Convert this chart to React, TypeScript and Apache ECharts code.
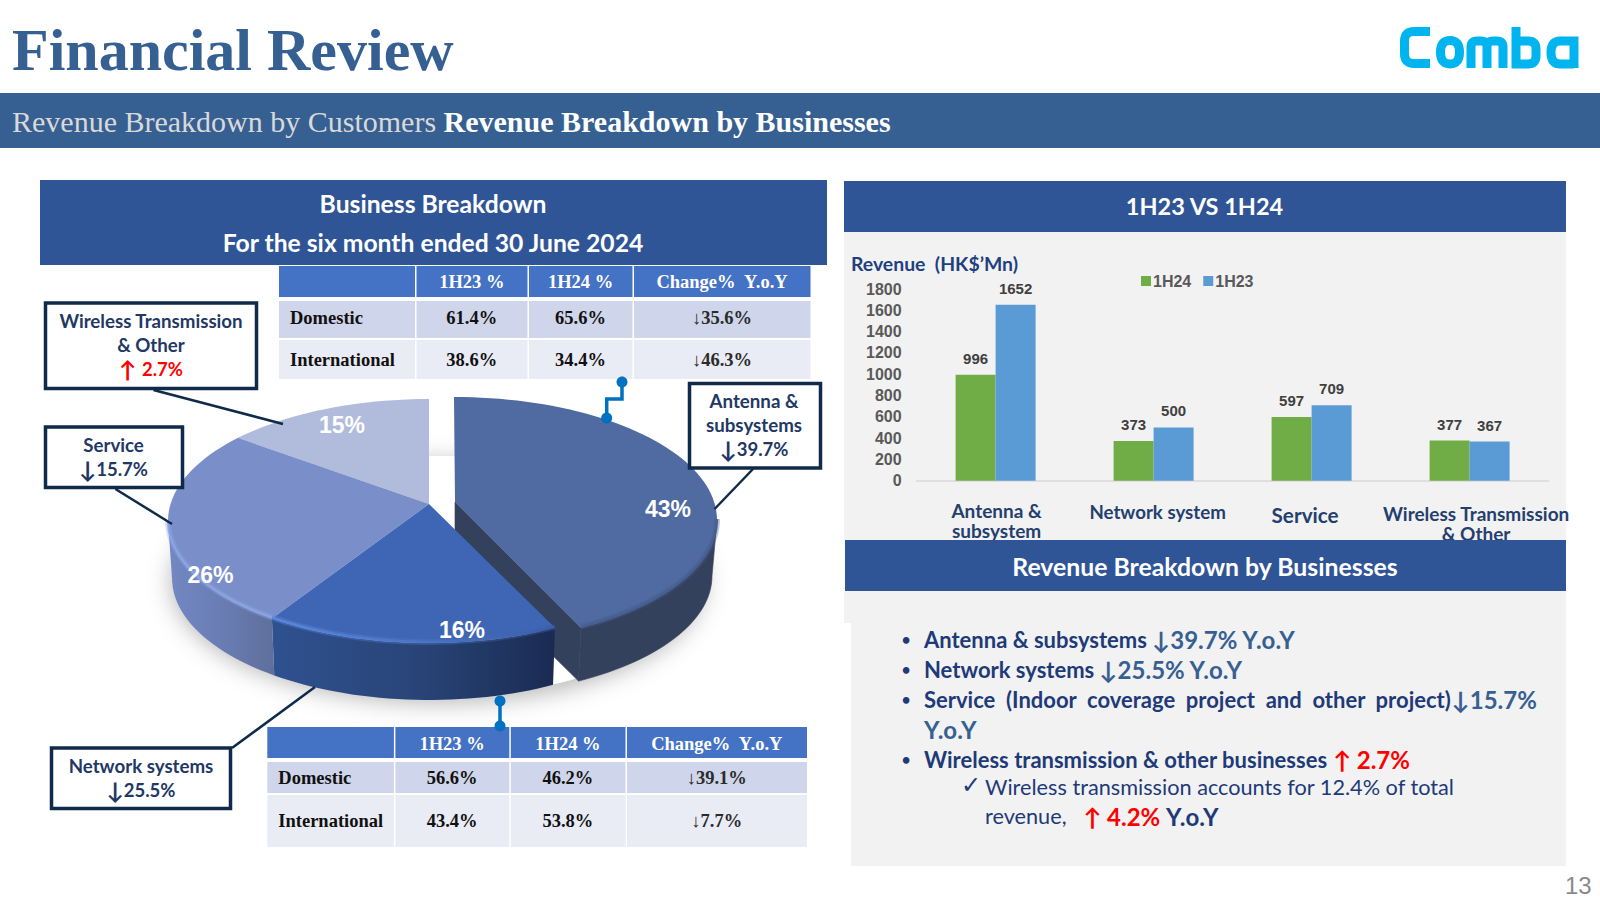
import React, { useEffect, useRef } from "react";
import * as echarts from "echarts";

// ---------- data ----------
const barCategories = ["Antenna &\nsubsystem", "Network system", "Service", "Wireless Transmission\n& Other"];
const revenue1H24 = [996, 373, 597, 377];
const revenue1H23 = [1652, 500, 709, 367];
const yTicks = { min: 0, max: 1800, interval: 200 };

const pieNames = ["Wireless Transmission & Other", "Service", "Network systems", "Antenna & subsystems"];
const pieValues = [15, 26, 16, 43];
const pieLabels = ["15%", "26%", "16%", "43%"];

const tableHead = ["", "1H23 %", "1H24 %", "Change%  Y.o.Y"];
const topDomestic = ["Domestic", "61.4%", "65.6%", "↓35.6%"];
const topIntl = ["International", "38.6%", "34.4%", "↓46.3%"];
const bottomDomestic = ["Domestic", "56.6%", "46.2%", "↓39.1%"];
const bottomIntl = ["International", "43.4%", "53.8%", "↓7.7%"];

// ---------- style constants ----------
const SANS = "Lato, 'DejaVu Sans', sans-serif";
const SERIF = "'Liberation Serif', serif";
const ARIAL = "'Liberation Sans', sans-serif";
const NAVY = "#2F5597";
const BAND = "#376092";
const INK = "#1F3864";
const BOX = "#0F2A4A";
const RIGHT = 1566;

const T = (x: number, y: number, text: string, o: any = {}) => ({
  type: "text", x, y, z: o.z ?? 50,
  style: {
    text, align: o.align ?? "center", verticalAlign: "middle",
    fill: o.fill ?? "#000", fontFamily: o.family ?? SANS,
    fontSize: o.size ?? 18, fontWeight: o.weight ?? "bold", rich: o.rich,
  },
});
const R = (x1: number, y1: number, x2: number, y2: number, fill: string, z = -10) => ({
  type: "rect", z, shape: { x: x1, y: y1, width: x2 - x1, height: y2 - y1 }, style: { fill },
});
const L = (x1: number, y1: number, x2: number, y2: number, stroke = BOX, lineWidth = 2.5, z = 20) => ({
  type: "line", z, shape: { x1, y1, x2, y2 }, style: { stroke, lineWidth },
});

function table(xs: number[], rows: number[][], dy: number[], content: string[][]) {
  const out: any[] = [];
  const fills = ["#4472C4", "#CFD5EA", "#E9EBF5"];
  rows.forEach((r, ri) => {
    for (let c = 0; c < 4; c++) {
      out.push(R(xs[c], r[0], xs[c + 1] - 1.5, r[1], fills[ri], 5));
      const cy = (r[0] + r[1]) / 2 + 0.5 + dy[ri];
      const left = c === 0;
      out.push(T(left ? xs[0] + 11 : (xs[c] + xs[c + 1]) / 2 - 1, cy, content[ri][c], {
        family: SERIF, size: 18.5, align: left ? "left" : "center",
        fill: ri === 0 ? "#fff" : c === 3 ? "#2b2b2b" : "#111",
      }));
    }
  });
  return out;
}

function callout(x1: number, y1: number, x2: number, y2: number) {
  return {
    type: "rect", z: 30,
    shape: { x: x1, y: y1, width: x2 - x1, height: y2 - y1 },
    style: { fill: "#fff", stroke: BOX, lineWidth: 3.5 },
  };
}

function arrowText(x: number, y: number, arrow: string, text: string, fill: string) {
  return T(x, y, `{a|${arrow}}{t|${text}}`, {
    z: 40, size: 18.5,
    rich: {
      a: { fill, fontFamily: SANS, fontWeight: "bold", fontSize: 23 },
      t: { fill, fontFamily: SANS, fontWeight: "bold", fontSize: 18.5 },
    },
  });
}

// ---------- pie geometry ----------
const TOP = { cx: 429, cy: 521, rx: 261, ry: 122, ax: 429, ay: 504 };
const BOT = { cx: 429, cy: 578, rx: 257, ry: 122 };
const TOP_EX = { cx: 454, cy: 520, rx: 263, ry: 123, ax: 455, ay: 502 };
const BOT_EX = { cx: 454, cy: 576, rx: 258, ry: 120 };
const EXPLODED = 3;
const TILT = 8.6;
const DRAW_ORDER = [10, 20, 30, 1];
const LABEL_POS = [[342, 425], [210.5, 575], [462, 630], [668, 509]];
const TOP_FILL = ["#B1BBDC", "#7A8FCA", "#3E66B4", "#4F6BA1"];

const warp = (deg: number) => deg - TILT * Math.sin((deg * Math.PI) / 180);
const pt = (e: any, deg: number) => {
  const t = (deg * Math.PI) / 180;
  return [e.cx - e.rx * Math.sin(t), e.cy - e.ry * Math.cos(t)];
};
const arc = (e: any, a: number, b: number) => {
  const n = Math.max(2, Math.ceil(Math.abs(b - a) / 2));
  const p: number[][] = [];
  for (let i = 0; i <= n; i++) p.push(pt(e, a + ((b - a) * i) / n));
  return p;
};
const grad = (stops: string[]) =>
  new echarts.graphic.LinearGradient(0, 0, 1, 0, stops.map((color, i) => ({ offset: i / (stops.length - 1), color })));

function renderSlice(params: any, api: any) {
  const i = params.dataIndex;
  const total = pieValues.reduce((s, v) => s + v, 0);
  const before = pieValues.slice(0, i).reduce((s, v) => s + v, 0);
  const value = api.value(0);
  const a = warp((before / total) * 360);
  const b = warp(((before + value) / total) * 360);
  const top = i === EXPLODED ? TOP_EX : TOP;
  const bot = i === EXPLODED ? BOT_EX : BOT;
  const base = DRAW_ORDER[i];
  const children: any[] = [];
  if (i === 0) {
    children.push({
      type: "ellipse", z2: 0,
      shape: { cx: 438, cy: 576, rx: 266, ry: 120 },
      style: { fill: "#fff", shadowBlur: 24, shadowColor: "rgba(0,0,0,0.3)", shadowOffsetY: 6 },
    });
  }
  const s1 = Math.max(a, 90), s2 = Math.min(b, 270);
  if (s2 > s1) {
    const fill =
      i === 1 ? grad(["#7288C4", "#6A7DB3", "#5E6F9C"]) :
      i === 2 ? grad(["#2F5190", "#294578", "#1A2B52"]) : "#34415C";
    children.push({
      type: "polygon", z2: base,
      shape: { points: [...arc(top, s1, s2), ...arc(bot, s2, s1)] },
      style: { fill, stroke: i === EXPLODED ? "#34415C" : undefined, lineWidth: 0.6 },
    });
  }
  if (i === EXPLODED) {
    const tip = pt(top, a), tipB = pt(bot, a);
    children.push({
      type: "polygon", z2: base + 1,
      shape: { points: [[top.ax, top.ay], tip, tipB, [top.ax, top.ay + 57]] },
      style: { fill: "#34415C", stroke: "#34415C", lineWidth: 0.6 },
    });
  }
  children.push({
    type: "polygon", z2: base + 2,
    shape: { points: [[top.ax, top.ay], ...arc(top, a, b)] },
    style: { fill: TOP_FILL[i] },
  });
  if (s2 > s1) {
    const stroke =
      i === 1 ? "#8BA6E6" : i === 2 ? grad(["#5C8BE0", "#4F78C8", "#3A5CA4"]) : "#465E8E";
    const rim = { ...top, cy: top.cy - 1 };
    children.push({
      type: "polyline", z2: base + 3,
      shape: { points: arc(rim, s1, s2) },
      style: { stroke, lineWidth: 6, fill: "none", opacity: 0.35 },
    });
    children.push({
      type: "polyline", z2: base + 4,
      shape: { points: arc(rim, s1, s2) },
      style: { stroke, lineWidth: 2.5, fill: "none", opacity: 0.8 },
    });
  }
  children.push({
    type: "text", z2: 60,
    x: LABEL_POS[i][0], y: LABEL_POS[i][1],
    style: {
      text: pieLabels[i], fill: "#fff", align: "center", verticalAlign: "middle",
      fontFamily: ARIAL, fontWeight: "bold", fontSize: 23,
    },
  });
  return { type: "group", children };
}

const LOGO_D =
  "M1430,31.5 L1414,31.5 Q1404.5,31.5 1404.5,41 L1404.5,54 Q1404.5,63.5 1414,63.5 L1430,63.5 " +
  "M1450,40.5 Q1459.5,40.5 1459.5,52.2 Q1459.5,64 1450,64 Q1440.5,64 1440.5,52.2 Q1440.5,40.5 1450,40.5 Z " +
  "M1471,68 L1471,47 Q1471,41 1477,41 L1481,41 Q1487,41 1487,47 L1487,68 M1487,47 Q1487,41 1493,41 L1497,41 Q1503,41 1503,47 L1503,68 " +
  "M1516,27 L1516,64 L1528,64 Q1536,64 1536,56 L1536,49 Q1536,41 1528,41 L1516,41 " +
  "M1574,64 L1560,64 Q1551,64 1551,52.5 Q1551,41 1560,41 L1574,41 L1574,68";
echarts.graphic.registerShape("combaLogo", echarts.graphic.extendPath(LOGO_D, {}) as any);

function graphicElements() {
  const e: any[] = [];
  // title
  e.push(T(12, 50, "Financial Review", { family: SERIF, size: 60, fill: BAND, align: "left" }));
  e.push({ type: "combaLogo", x: 0, y: 0, z: 50, style: { fill: "none", stroke: "#00B5EF", lineWidth: 9 } });
  e.push(R(0, 93, 1600, 148, BAND));
  e.push(T(12, 121, "{a|Revenue Breakdown by Customers }{b|Revenue Breakdown by Businesses}", {
    align: "left", family: SERIF, size: 30,
    rich: {
      a: { fill: "#D9D9D9", fontFamily: SERIF, fontSize: 30, fontWeight: "normal" },
      b: { fill: "#fff", fontFamily: SERIF, fontSize: 30, fontWeight: "bold" },
    },
  }));

  // left header
  e.push(R(40, 180, 827, 265, NAVY));
  e.push(T(433, 203, "Business Breakdown", { fill: "#fff", size: 24.7 }));
  e.push(T(433, 242, "For the six month ended 30 June 2024", { fill: "#fff", size: 24.7 }));

  // tables
  e.push(...table([279, 416.5, 529, 634, 812],
    [[266, 297], [301, 338], [340, 379]], [0, -2, 0], [tableHead, topDomestic, topIntl]));
  e.push(...table([267.3, 395.4, 510.8, 627, 808.5],
    [[727, 758], [762, 793], [795, 847]], [1, 0, -1], [tableHead, bottomDomestic, bottomIntl]));

  // callouts
  e.push(L(153.5, 390, 283, 424));
  e.push(L(115.4, 489, 172, 524));
  e.push(L(753, 469, 714.6, 509));
  e.push(L(232, 748, 315, 687));
  e.push(callout(45.5, 303, 256.5, 388.5));
  e.push(callout(45.5, 427, 182.5, 487.5));
  e.push(callout(689.5, 383.5, 820.5, 468));
  e.push(callout(51.5, 748, 230.5, 808.5));
  const cs = { fill: INK, size: 18.7, z: 40 };
  e.push(T(151, 321, "Wireless Transmission", cs), T(151, 345, "& Other", cs),
    arrowText(151, 369, "↑ ", "2.7%", "#FF0000"));
  e.push(T(113.5, 445, "Service", cs), arrowText(113.5, 469, "↓", "15.7%", INK));
  e.push(T(754, 401, "Antenna &", cs), T(754, 425, "subsystems", cs), arrowText(754, 449, "↓", "39.7%", INK));
  e.push(T(141, 766, "Network systems", cs), arrowText(141, 790, "↓", "25.5%", INK));

  // connectors
  const blue = "#0070C0";
  e.push({
    type: "polyline", z: 20,
    shape: { points: [[622, 382], [622, 399], [606.7, 399], [606.7, 418]] },
    style: { stroke: blue, lineWidth: 3.5, fill: "none" },
  });
  e.push(L(500, 701, 500, 726, blue, 3.5));
  [[622, 382], [606.7, 418], [500, 701], [500, 726]].forEach(([x, y]) =>
    e.push({ type: "ellipse", z: 21, shape: { cx: x, cy: y, rx: 5.5, ry: 5.5 }, style: { fill: blue } }));

  // right panels
  e.push(R(844, 232, RIGHT, 540, "#F2F2F2", -20));
  e.push(R(844, 181, RIGHT, 232, NAVY));
  e.push(T(1204.5, 206, "1H23 VS 1H24", { fill: "#fff", size: 23.5 }));
  e.push(T(851, 263, "Revenue  (HK$’Mn)", { fill: "#1F3F7F", size: 19.4, align: "left" }));
  e.push(R(845, 540, RIGHT, 591, NAVY, 40));
  e.push(T(1205, 566, "Revenue Breakdown by Businesses", { fill: "#fff", size: 24.8, z: 41 }));
  e.push(R(844, 591, RIGHT, 623, "#F2F2F2", -20));
  e.push(R(851, 623, RIGHT, 866, "#F2F2F2", -20));

  // bullets
  const rich = {
    b: { fill: "#1E3A78", fontFamily: SANS, fontWeight: "bold", fontSize: 22 },
    c: { fill: BAND, fontFamily: SANS, fontWeight: "bold", fontSize: 24 },
    r: { fill: "#FF0000", fontFamily: SANS, fontWeight: "bold", fontSize: 24 },
    d: { fill: "#1E3A78", fontFamily: SANS, fontWeight: "bold", fontSize: 24 },
    n: { fill: "#1E3A78", fontFamily: SANS, fontWeight: "normal", fontSize: 21.7 },
  };
  const lines: [number, number, string][] = [
    [924, 639, "{b|Antenna & subsystems }{c|↓39.7% Y.o.Y}"],
    [924, 669, "{b|Network systems }{c|↓25.5% Y.o.Y}"],
    [924, 699, "{b|Service  (Indoor  coverage  project  and  other  project)}{c|↓15.7%}"],
    [924, 729, "{c|Y.o.Y}"],
    [924, 759, "{b|Wireless transmission & other businesses }{r|↑ 2.7%}"],
    [985, 787, "{n|Wireless transmission accounts for 12.4% of total}"],
    [985, 816, "{n|revenue,   }{r|↑ 4.2% }{d|Y.o.Y}"],
  ];
  lines.forEach(([x, y, t]) => e.push(T(x, y, t, { align: "left", rich, size: 22 })));
  [639, 669, 699, 759].forEach((y) => e.push(T(906, y, "•", { fill: "#1E3A78", size: 15 })));
  e.push(T(971, 785, "✓", { fill: "#1E3A78", size: 24, family: "'DejaVu Sans'", weight: "normal" }));

  e.push(T(1565, 885, "13", { family: ARIAL, size: 24, weight: "normal", fill: "#8A8A8A", align: "left" }));
  return e;
}

const AXIS_STYLE: [number[], number][] = [
  [[0, 0, 0, 2], 19],
  [[3, 0, 0, 8], 18.7],
  [[9, 13, 0, 0], 20.7],
  [[5, 0, 0, 13], 19],
];
const axisRich: any = {};
AXIS_STYLE.forEach(([padding, fontSize], i) => {
  axisRich["c" + i] = { fontFamily: SANS, fontWeight: "bold", fontSize, color: "#243F6E", lineHeight: 20, padding };
});

export default function App() {
  const ref = useRef<HTMLDivElement>(null);
  useEffect(() => {
    document.body.style.margin = "0";
    document.documentElement.style.overflow = "hidden";
    const chart = echarts.init(ref.current!, null, { renderer: "svg" });
    const valueLabel = {
      show: true, position: "top" as const, distance: 9, fontFamily: ARIAL,
      fontWeight: "bold" as const, fontSize: 15, color: "#404040",
    };
    chart.setOption({
      animation: false,
      backgroundColor: "#fff",
      legend: {
        left: 1136, top: 268, itemWidth: 10, itemHeight: 10, itemGap: 12, icon: "rect",
        data: ["1H24", "1H23"],
        textStyle: { fontFamily: ARIAL, fontWeight: "bold", fontSize: 16, color: "#595959", padding: [0, 0, 0, -3] },
      },
      grid: { left: 916.6, top: 289, width: 632, height: 191.7, containLabel: false },
      xAxis: {
        type: "category", data: barCategories,
        axisLine: { lineStyle: { color: "#D9D9D9", width: 1.5 } },
        axisTick: { show: false },
        axisLabel: {
          interval: 0, margin: 20, rich: axisRich,
          formatter: (v: string, i: number) => v.split("\n").map((l) => `{c${i}|${l}}`).join("\n"),
        },
      },
      yAxis: {
        type: "value", min: yTicks.min, max: yTicks.max, interval: yTicks.interval,
        splitLine: { show: false }, axisLine: { show: false }, axisTick: { show: false },
        axisLabel: {
          margin: 15, fontFamily: ARIAL, fontWeight: "bold", fontSize: 16, color: "#595959",
          formatter: (v: number) => String(v),
        },
      },
      series: [
        { name: "1H24", type: "bar", data: revenue1H24, barWidth: 40, barGap: 0, itemStyle: { color: "#70AD47" }, label: valueLabel },
        { name: "1H23", type: "bar", data: revenue1H23, barWidth: 40, barGap: 0, itemStyle: { color: "#5B9BD5" }, label: valueLabel },
        {
          type: "custom", coordinateSystem: "none", z: 10,
          data: pieValues.map((v, i) => ({ name: pieNames[i], value: [v] })),
          renderItem: renderSlice, silent: true,
        },
      ],
      graphic: { elements: graphicElements() },
    });
    return () => chart.dispose();
  }, []);
  return <div ref={ref} style={{ width: 1600, height: 900 }} />;
}
